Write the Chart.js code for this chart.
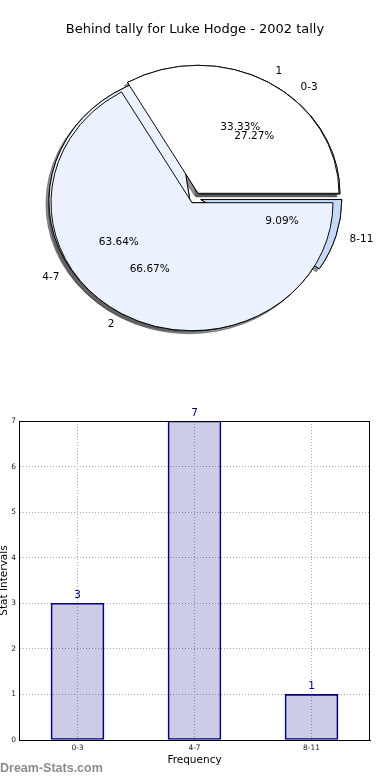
<!DOCTYPE html>
<html>
<head>
<meta charset="utf-8">
<script src="https://cdn.jsdelivr.net/npm/chart.js@4.4.0/dist/chart.umd.min.js"></script>
<style>
  body { margin: 0; background: #fff; }
  #wrap { position: relative; width: 390px; height: 780px; overflow: hidden; }
  #pieChart { position: absolute; left: 0; top: 0; }
  #barChart { position: absolute; left: 0; top: 390px; }
  #mark { position: absolute; left: 0; top: 761px; line-height: 14px; font: bold 12.5px "Liberation Sans", sans-serif; color: #8c8c8c; }
</style>
</head>
<body>
<div id="wrap">
  <canvas id="pieChart" width="390" height="390"></canvas>
  <canvas id="barChart" width="390" height="390"></canvas>
  <div id="mark">Dream-Stats.com</div>
</div>
<script>
// data
var chartTitle = 'Behind tally for Luke Hodge - 2002 tally';
var intervalLabels = ['0-3', '4-7', '8-11'];
var intervalCounts = [3, 7, 1];
var intervalColors = ['#ffffff', '#ebf1fd', '#c6daf8'];
var tallyNames = ['1', '2'];
var tallyCounts = [1, 2];
var tallyColors = ['#ffffff', '#ebf1fd'];
var yTicks = [0, 1, 2, 3, 4, 5, 6, 7];

// pie look
var PIE_RADIUS = 141;
var PIE_SQUASH = 128 / 141;
var PIE_EXPLODE = 6;

Chart.defaults.font.family = '"DejaVu Sans", sans-serif';
Chart.defaults.color = '#000';

function rev(a) { return a.slice().reverse(); }

// move one wedge out from the centre and flatten the pie a little
function placeWedge(ctx, arc) {
  var mid = (arc.startAngle + arc.endAngle) / 2;
  ctx.translate(arc.x, arc.y);
  ctx.scale(1, PIE_SQUASH);
  ctx.translate(Math.cos(mid) * PIE_EXPLODE, Math.sin(mid) * PIE_EXPLODE);
  ctx.translate(-arc.x, -arc.y);
}

// pie where every dataset fills the whole circle (drawn on top of each other)
class ExplodedPieController extends Chart.PieController {
  updateElements(arcs, start, count, mode) {
    this.innerRadius = 0;
    this.outerRadius = PIE_RADIUS;
    super.updateElements(arcs, start, count, mode);
  }
  draw() {
    var ctx = this.chart.ctx;
    this._cachedMeta.data.forEach(function (arc) {
      ctx.save();
      placeWedge(ctx, arc);
      arc.draw(ctx);
      ctx.restore();
    });
  }
}
ExplodedPieController.id = 'explodedPie';
ExplodedPieController.defaults = {};
Chart.register(ExplodedPieController);

// all shadows go under all wedges
var pieShadow = {
  id: 'pieShadow',
  beforeDatasetsDraw: function (chart) {
    var ctx = chart.ctx;
    chart.getSortedVisibleDatasetMetas().slice().reverse().forEach(function (meta) {
      meta.data.forEach(function (arc) {
        ctx.save();
        ctx.shadowColor = 'rgba(60,60,60,0.55)';
        ctx.shadowOffsetX = -3;
        ctx.shadowOffsetY = 3;
        ctx.shadowBlur = 0;
        placeWedge(ctx, arc);
        arc.draw(ctx);
        ctx.restore();
      });
    });
  }
};

var pieLabels = {
  id: 'pieLabels',
  afterDatasetsDraw: function (chart) {
    var ctx = chart.ctx;
    ctx.save();
    ctx.font = '10.5px "DejaVu Sans"';
    ctx.fillStyle = '#000';
    ctx.textBaseline = 'middle';
    chart.data.datasets.forEach(function (ds, d) {
      var meta = chart.getDatasetMeta(d);
      var total = ds.data.reduce(function (a, b) { return a + b; }, 0);
      meta.data.forEach(function (arc, i) {
        var mid = (arc.startAngle + arc.endAngle) / 2;
        var c = Math.cos(mid), s = Math.sin(mid);
        var r = PIE_RADIUS * 0.6 + PIE_EXPLODE;
        ctx.textAlign = 'center';
        ctx.fillText((ds.data[i] / total * 100).toFixed(2) + '%', arc.x + c * r, arc.y + s * r * PIE_SQUASH);
        r = PIE_RADIUS * 1.1 + PIE_EXPLODE;
        ctx.textAlign = c > 0 ? 'left' : 'right';
        ctx.fillText(ds.names[i], arc.x + c * r, arc.y + s * r * PIE_SQUASH);
      });
    });
    ctx.restore();
  }
};

new Chart(document.getElementById('pieChart'), {
  type: 'explodedPie',
  data: {
    labels: intervalLabels,
    datasets: [
      {
        data: rev(tallyCounts),
        names: rev(tallyNames),
        backgroundColor: rev(tallyColors),
        borderColor: '#000',
        borderWidth: 1,
        borderJoinStyle: 'miter',
        rotation: 90
      },
      {
        data: rev(intervalCounts),
        names: rev(intervalLabels),
        backgroundColor: rev(intervalColors),
        borderColor: '#000',
        borderWidth: 1,
        borderJoinStyle: 'miter',
        rotation: 90
      }
    ]
  },
  options: {
    responsive: false,
    animation: false,
    events: [],
    rotation: 90,
    layout: { padding: { bottom: 31.6 } },
    plugins: {
      legend: { display: false },
      tooltip: { enabled: false },
      title: {
        display: true,
        text: chartTitle,
        color: '#000',
        font: { size: 13, weight: 'normal' },
        padding: { top: 22, bottom: 0 }
      }
    }
  },
  plugins: [pieShadow, pieLabels]
});

// numbers above the bars
var barValues = {
  id: 'barValues',
  afterDatasetsDraw: function (chart) {
    var ctx = chart.ctx;
    var ds = chart.data.datasets[0];
    ctx.save();
    ctx.font = '10.5px "DejaVu Sans"';
    ctx.fillStyle = '#000080';
    ctx.textAlign = 'center';
    ctx.textBaseline = 'alphabetic';
    chart.getDatasetMeta(0).data.forEach(function (bar, i) {
      ctx.fillText(String(ds.data[i]), bar.x, bar.y - 5);
    });
    ctx.restore();
  }
};

// box round the plot
var frame = {
  id: 'frame',
  afterDraw: function (chart) {
    var a = chart.chartArea, ctx = chart.ctx;
    ctx.save();
    ctx.strokeStyle = '#000';
    ctx.lineWidth = 1;
    ctx.strokeRect(Math.round(a.left) + 0.5, Math.round(a.top) + 0.5, Math.round(a.right - a.left) - 1, Math.round(a.bottom - a.top));
    ctx.restore();
  }
};

var gridDots = { color: '#a8a8a8', lineWidth: 1, drawTicks: false };

new Chart(document.getElementById('barChart'), {
  type: 'bar',
  data: {
    labels: intervalLabels,
    datasets: [{
      data: intervalCounts,
      backgroundColor: 'rgba(0,0,128,0.2)',
      borderColor: '#000080',
      borderWidth: 1,
      borderSkipped: false,
      barThickness: 53
    }]
  },
  options: {
    responsive: false,
    animation: false,
    events: [],
    layout: { padding: { top: 31, right: 20, left: 0, bottom: 0 } },
    plugins: { legend: { display: false }, tooltip: { enabled: false } },
    scales: {
      x: {
        z: 1,
        offset: true,
        grid: Object.assign({ offset: false }, gridDots),
        border: { color: '#000', width: 1, dash: [1, 2] },
        ticks: { font: { size: 7.5 }, color: '#222', padding: 4, maxRotation: 0 },
        title: { display: true, text: 'Frequency', color: '#000', font: { size: 10.5 }, padding: { top: 0, bottom: 13.7 } },
        afterFit: function (s) { s.height = 40; }
      },
      y: {
        z: 1,
        min: yTicks[0],
        max: yTicks[yTicks.length - 1],
        grid: gridDots,
        border: { color: '#000', width: 1, dash: [1, 2] },
        ticks: { stepSize: 1, font: { size: 7.5 }, color: '#222', padding: 3 },
        afterBuildTicks: function (s) { s.ticks = yTicks.map(function (v) { return { value: v }; }); },
        title: { display: true, text: 'Stat Intervals', color: '#000', font: { size: 10.5 }, padding: { top: -2.5, bottom: 0 } },
        afterFit: function (s) { s.width = 19; }
      }
    }
  },
  plugins: [barValues, frame]
});
</script>
</body>
</html>
